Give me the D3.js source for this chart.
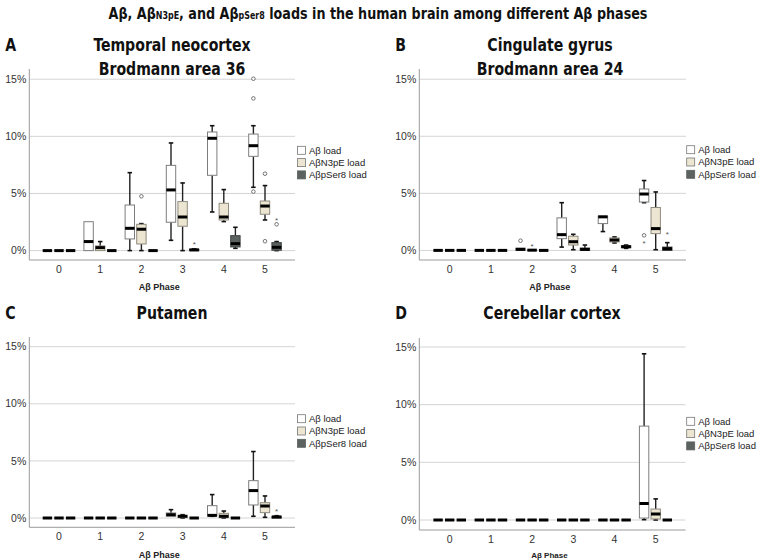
<!DOCTYPE html>
<meta charset="UTF-8">
<script src="https://cdnjs.cloudflare.com/ajax/libs/d3/7.4.4/d3.min.js"></script>
<style>
    body { margin: 0; background: #fff; }
    text { font-family: "Liberation Sans", Arial, sans-serif; }
    .ttl { font-family: "Liberation Sans Narrow", "DejaVu Sans Condensed", sans-serif; font-weight: bold; }
</style>
<svg id="chart" width="757" height="560"></svg>
<script>
    // phases on the x axis and the three measured loads
    const phases = [0, 1, 2, 3, 4, 5];
    const seriesNames = ["Aβ load", "AβN3pE load", "AβpSer8 load"];
    const yTicks = [0, 5, 10, 15];

    // box stats per phase: [min, q1, median, q3, max] in %
    const temporalAb = [[0,0,0,0,0],[0,0,0.79,2.53,2.53],[0,1.02,1.95,3.99,6.82],[0.9,2.48,5.31,7.46,9.42],[3.38,6.59,9.83,10.38,10.93],[5.54,8.25,9.18,10.2,10.93]];
    const temporalN3 = [[0,0,0,0,0],[0,0,0.26,0.41,0.79],[0,0.58,1.87,2.3,2.36],[0,2.13,2.94,4.29,5.92],[2.54,2.68,2.94,4.14,5.34],[2.68,3.18,3.9,4.34,5.69]];
    const temporalPs = [[0,0,0,0,0],[0,0,0,0,0],[0,0,0,0,0],[0,0,0.06,0.12,0.15],[0.2,0.32,0.61,1.31,2.04],[0,0.03,0.29,0.7,0.79]];
    const temporalOut = [[2,1,4.75,"o"],[3,2,0.7,"*"],[5,0,5.16,"o"],[5,0,13.32,"o"],[5,0,15.04,"o"],[5,1,6.73,"o"],[5,1,0.82,"o"],[5,2,2.3,"o"],[5,2,2.74,"*"]];

    const cingulateAb = [[0,0,0,0,0],[0,0,0,0,0],[0,0,0.09,0.2,0.2],[0.29,1.03,1.38,2.85,4.18],[1.65,2.35,2.94,3.0,3.0],[4.18,4.24,4.94,5.38,6.12]];
    const cingulateN3 = [[0,0,0,0,0],[0,0,0,0,0],[0,0,0.02,0.05,0.05],[0.06,0.47,0.76,1.24,1.41],[0.65,0.74,0.91,1.09,1.18],[0.06,1.47,1.91,3.76,5.12]];
    const cingulatePs = [[0,0,0,0,0],[0,0,0,0,0],[0,0,0,0,0],[0,0,0.09,0.2,0.47],[0.18,0.24,0.32,0.41,0.47],[0,0,0.15,0.29,0.68]];
    const cingulateOut = [[2,0,0.85,"o"],[2,1,0.44,"*"],[5,0,1.32,"o"],[5,0,0.76,"*"],[5,2,1.53,"*"]];

    const putamenAb = [[0,0,0,0,0],[0,0,0,0,0],[0,0,0,0,0],[0.15,0.15,0.29,0.44,0.73],[0.15,0.18,0.23,1.08,2.05],[0.15,1.14,2.4,3.27,5.82]];
    const putamenN3 = [[0,0,0,0,0],[0,0,0,0,0],[0,0,0,0,0],[0,0.03,0.15,0.23,0.29],[0,0.03,0.15,0.41,0.61],[0.06,0.47,1.05,1.34,1.93]];
    const putamenPs = [[0,0,0,0,0],[0,0,0,0,0],[0,0,0,0,0],[0,0,0,0,0],[0,0,0,0,0],[0,0,0.09,0.15,0.2]];
    const putamenOut = [[5,2,0.7,"*"]];

    const cerebellarAb = [[0,0,0,0,0],[0,0,0,0,0],[0,0,0,0,0],[0,0,0,0,0],[0,0,0,0,0],[0.03,0.17,1.43,8.14,14.41]];
    const cerebellarN3 = [[0,0,0,0,0],[0,0,0,0,0],[0,0,0,0,0],[0,0,0,0,0],[0,0,0,0,0],[0,0.09,0.52,0.95,1.83]];
    const cerebellarPs = [[0,0,0,0,0],[0,0,0,0,0],[0,0,0,0,0],[0,0,0,0,0],[0,0,0,0,0],[0,0,0,0,0]];
    const cerebellarOut = [];

    const fills = ["#ffffff", "#ebe5d1", "#5b625f"];
    const strokes = ["#7d7d7d", "#8f8b7f", "#3f4442"];

    let svg = d3.select("#chart");

    // bold titles, squeezed sideways to look like the condensed face
    function titleText(parent, x, y, size, k, anchor) {
        return parent.append("text").attr("class", "ttl")
            .attr("transform", "translate(" + x + "," + y + ") scale(" + k + ",1)")
            .style("text-anchor", anchor).style("font-size", size + "px").style("fill", "#111");
    }

    // main title with the small subscript parts
    let title = titleText(svg, 378, 19, 16, 0.885, "middle");
    title.append("tspan").text("Aβ, Aβ");
    title.append("tspan").style("font-size", "10px").text("N3pE");
    title.append("tspan").text(", and Aβ");
    title.append("tspan").style("font-size", "10px").text("pSer8");
    title.append("tspan").text(" loads in the human brain among different Aβ phases");

    const panels = [
        {letter: "A", lines: ["Temporal neocortex", "Brodmann area 36"], ab: temporalAb, n3: temporalN3, ps: temporalPs, out: temporalOut,
         x0: 29.3, x1: 295, c0: 59, yZero: 250.6, yTop: 79.2, yAxisTop: 69, yBottom: 260, lx: 297.5, ly: 150.3, ttlX: 172, ttlY: 51, phY: 290, phSize: 9},
        {letter: "B", lines: ["Cingulate gyrus", "Brodmann area 24"], ab: cingulateAb, n3: cingulateN3, ps: cingulatePs, out: cingulateOut,
         x0: 419.3, x1: 686, c0: 449.7, yZero: 250.4, yTop: 79.2, yAxisTop: 69, yBottom: 260, lx: 686.7, ly: 149.7, ttlX: 550, ttlY: 51, phY: 290, phSize: 9},
        {letter: "C", lines: ["Putamen"], ab: putamenAb, n3: putamenN3, ps: putamenPs, out: putamenOut,
         x0: 29.3, x1: 295, c0: 59, yZero: 518, yTop: 346.7, yAxisTop: 337, yBottom: 527.3, lx: 297.5, ly: 418.7, ttlX: 172, ttlY: 319, phY: 557.5, phSize: 9},
        {letter: "D", lines: ["Cerebellar cortex"], ab: cerebellarAb, n3: cerebellarN3, ps: cerebellarPs, out: cerebellarOut,
         x0: 419.3, x1: 685.5, c0: 449.7, yZero: 520, yTop: 347, yAxisTop: 338, yBottom: 530, lx: 686.7, ly: 421.3, ttlX: 552, ttlY: 319, phY: 558, phSize: 8}
    ];

    const step = 41.2, boxW = 9.4, offset = 11.6, capW = 4.5;

    panels.forEach(function (p) {
        let g = svg.append("g");
        let y = d3.scaleLinear().domain([0, 15]).range([p.yZero, p.yTop]);
        let x = d3.scalePoint().domain(phases).range([p.c0, p.c0 + step * 5]);

        // titles
        titleText(g, p.x0 - 24, p.ttlY, 18, 0.87, "start").text(p.letter);
        p.lines.forEach(function (l, i) {
            titleText(g, p.ttlX, p.ttlY + i * 24, 18, 0.87, "middle").text(l);
        });

        // grid
        g.selectAll(".grid").data(yTicks).enter().append("line")
            .attr("x1", p.x0).attr("x2", p.x1)
            .attr("y1", d => y(d)).attr("y2", d => y(d))
            .style("stroke", "#d4d4d4").style("stroke-width", 1);

        // axes
        g.append("line").attr("x1", p.x0).attr("x2", p.x0).attr("y1", p.yAxisTop).attr("y2", p.yBottom)
            .style("stroke", "#9a9a9a");
        g.append("line").attr("x1", p.x0).attr("x2", p.x1).attr("y1", p.yBottom).attr("y2", p.yBottom)
            .style("stroke", "#9a9a9a");
        g.selectAll(".ytl").data(yTicks).enter().append("text")
            .attr("x", p.x0 - 3).attr("y", d => y(d)).attr("dy", "0.35em")
            .style("text-anchor", "end").style("font-size", "10.5px").style("fill", "#333")
            .text(d => d + "%");
        g.selectAll(".xtl").data(phases).enter().append("text")
            .attr("x", d => x(d)).attr("y", p.yBottom + 9).attr("dy", "0.35em")
            .style("text-anchor", "middle").style("font-size", "10.5px").style("fill", "#333")
            .text(d => d);
        g.append("text").attr("x", (p.x0 + p.x1) / 2 - 3).attr("y", p.phY)
            .style("text-anchor", "middle").style("font-size", p.phSize + "px").style("font-weight", "bold").style("fill", "#222")
            .text("Aβ Phase");

        // boxes
        [p.ab, p.n3, p.ps].forEach(function (stats, s) {
            stats.forEach(function (d, i) {
                let cx = x(phases[i]) + (s - 1) * offset;
                let b = g.append("g");
                if (d[4] > d[3]) {
                    b.append("line").attr("x1", cx).attr("x2", cx).attr("y1", y(d[3])).attr("y2", y(d[4]))
                        .style("stroke", "#222").style("stroke-width", 1.4);
                    b.append("line").attr("x1", cx - capW / 2).attr("x2", cx + capW / 2).attr("y1", y(d[4])).attr("y2", y(d[4]))
                        .style("stroke", "#111").style("stroke-width", 1.6);
                }
                if (d[1] > d[0]) {
                    b.append("line").attr("x1", cx).attr("x2", cx).attr("y1", y(d[0])).attr("y2", y(d[1]))
                        .style("stroke", "#222").style("stroke-width", 1.4);
                    b.append("line").attr("x1", cx - capW / 2).attr("x2", cx + capW / 2).attr("y1", y(d[0])).attr("y2", y(d[0]))
                        .style("stroke", "#111").style("stroke-width", 1.6);
                }
                b.append("rect").attr("x", cx - boxW / 2).attr("width", boxW)
                    .attr("y", y(d[3])).attr("height", Math.max(0, y(d[1]) - y(d[3])))
                    .style("fill", fills[s]).style("stroke", strokes[s]).style("stroke-width", 1);
                b.append("line").attr("x1", cx - boxW / 2).attr("x2", cx + boxW / 2)
                    .attr("y1", y(d[2])).attr("y2", y(d[2]))
                    .style("stroke", "#000").style("stroke-width", 3);
            });
        });

        // outliers and extremes
        p.out.forEach(function (o) {
            let cx = x(phases[o[0]]) + (o[1] - 1) * offset;
            if (o[3] === "o") {
                g.append("circle").attr("cx", cx).attr("cy", y(o[2])).attr("r", 1.8)
                    .style("fill", "#fff").style("stroke", "#666").style("stroke-width", 0.9);
            } else {
                g.append("text").attr("x", cx).attr("y", y(o[2]) + 4)
                    .style("text-anchor", "middle").style("font-size", "8px").style("fill", "#555").text("*");
            }
        });

        // legend
        seriesNames.forEach(function (n, s) {
            let ly = p.ly + s * 12.3;
            g.append("rect").attr("x", p.lx).attr("y", ly - 4).attr("width", 8).attr("height", 8)
                .style("fill", fills[s]).style("stroke", s === 2 ? fills[2] : "#777").style("stroke-width", 0.8);
            g.append("text").attr("x", p.lx + 11.5).attr("y", ly).attr("dy", "0.35em")
                .style("font-size", "9.5px").style("fill", "#222").text(n);
        });
    });
</script>
